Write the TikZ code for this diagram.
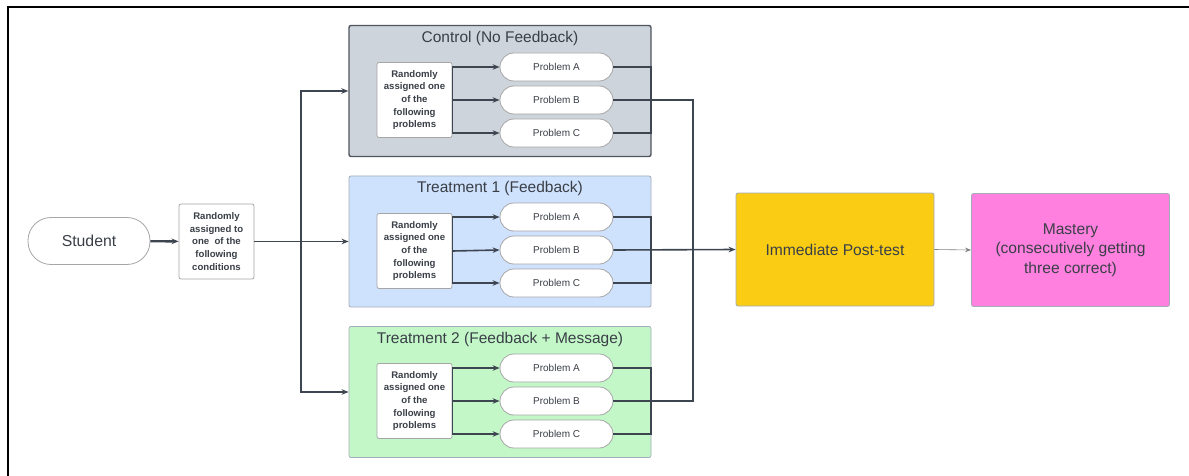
\documentclass[tikz,border=0pt]{standalone}
\usepackage{fontspec}
\setmainfont{Liberation Sans}
\usetikzlibrary{arrows.meta}
\definecolor{txt}{HTML}{3A3F47}
\definecolor{line}{HTML}{3D4550}
\definecolor{ctrlfill}{HTML}{CED4DB}
\definecolor{ctrldraw}{HTML}{50565E}
\definecolor{t1fill}{HTML}{CFE2FD}
\definecolor{t2fill}{HTML}{C3F7C8}
\definecolor{lightdraw}{HTML}{A3ADB8}
\definecolor{postfill}{HTML}{FACD14}
\definecolor{mastfill}{HTML}{FF80DF}
\tikzset{
  conn/.style={draw=line, line width=1.6pt},
  arr/.style={conn, -{Stealth[length=7pt,width=5.5pt]}},
  group/.style={draw=lightdraw, line width=0.8pt, rounded corners=2pt, minimum width=302pt, minimum height=131pt, inner sep=0pt},
  inbox/.style={draw=gray!70, fill=white, line width=0.8pt, rounded corners=2pt, minimum width=75pt, minimum height=75pt, inner sep=1pt, align=center, font=\fontsize{9.6}{12.6}\selectfont\bfseries, text=txt},
  prob/.style={draw=gray!70, fill=white, line width=0.8pt, rounded corners=14pt, minimum width=113pt, minimum height=28pt, inner sep=0pt, font=\fontsize{10}{12}\selectfont, text=txt},
  title/.style={font=\fontsize{15.5}{18}\selectfont, text=txt},
  bigbox/.style={draw=lightdraw, line width=0.8pt, rounded corners=2pt, minimum width=198pt, minimum height=113pt, align=center, font=\fontsize{15.6}{19.5}\selectfont, text=txt}
}
\begin{document}
\begin{tikzpicture}[x=1pt,y=-1pt]
\useasboundingbox (0,0) rectangle (1189,476);
\fill[white] (0,0) rectangle (1189,476);
% frame
\draw[black, line width=2pt] (8,476) -- (8,7) -- (1189,7);

% student and first assignment
\node[draw=gray!70, line width=0.8pt, rounded corners=23pt, minimum width=122pt, minimum height=47pt, font=\fontsize{15.8}{18}\selectfont, text=txt] (stu) at (89,241) {Student};
\node[inbox, minimum height=75pt] (ra) at (216.5,241.5) {Randomly\\assigned to\\one\ \ of the\\following\\conditions};

% groups
\node[group, draw=ctrldraw, line width=1.4pt, fill=ctrlfill] (g1) at (500,91) {};
\node[group, fill=t1fill] (g2) at (500,241.5) {};
\node[group, fill=t2fill] (g3) at (500,392) {};
\node[title] (t1) at (500,38) {Control (No Feedback)};
\node[title] (t2) at (500,188) {Treatment 1 (Feedback)};
\node[title] (t3) at (500,339) {Treatment 2 (Feedback + Message)};

% inner boxes
\node[inbox] (i1) at (414.5,100) {Randomly\\assigned one\\of the\\following\\problems};
\node[inbox] (i2) at (414.5,251) {Randomly\\assigned one\\of the\\following\\problems};
\node[inbox] (i3) at (414.5,401) {Randomly\\assigned one\\of the\\following\\problems};

% problems
\foreach \g/\y in {1/100, 2/250, 3/401}{
  \node[prob] (pa\g) at (556.5,\y-33) {Problem A};
  \node[prob] (pb\g) at (556.5,\y) {Problem B};
  \node[prob] (pc\g) at (556.5,\y+33) {Problem C};
}

% post-test and mastery
\node[bigbox, fill=postfill] (post) at (835,249.5) {Immediate Post-test};
\node[bigbox, fill=mastfill] (mast) at (1070.5,250) {Mastery\\(consecutively getting\\three correct)};

% coordinates
\coordinate (split) at (301,241.5);
\coordinate (j1) at (651,100);
\coordinate (j2) at (651,250);
\coordinate (j3) at (651,401);
\coordinate (m) at (693,250);

% connectors
\draw[arr, line width=2.4pt] (stu) -- (ra);
\draw[conn] (ra.east) -- (split);
\draw[arr] (split) |- (g1.west);
\draw[arr] (split) -- (g2.west);
\draw[arr] (split) |- (g3.west);

\foreach \g in {1,2,3}{
  \draw[arr] (i\g.east) |- (pa\g.west);
  \draw[arr] (i\g.east) -- (pb\g.west);
  \draw[arr] (i\g.east) |- (pc\g.west);
  \draw[conn] (pa\g.east) -| (j\g);
  \draw[conn] (pc\g.east) -| (j\g);
}
\draw[conn] (pb1.east) -| (m);
\draw[conn] (pb3.east) -| (m);
\draw[arr] (pb2.east) -- (post.west);
\draw[draw=gray, line width=0.6pt, -{Stealth[length=6pt,width=4.5pt]}] (post.east) -- (mast.west);
\end{tikzpicture}
\end{document}
